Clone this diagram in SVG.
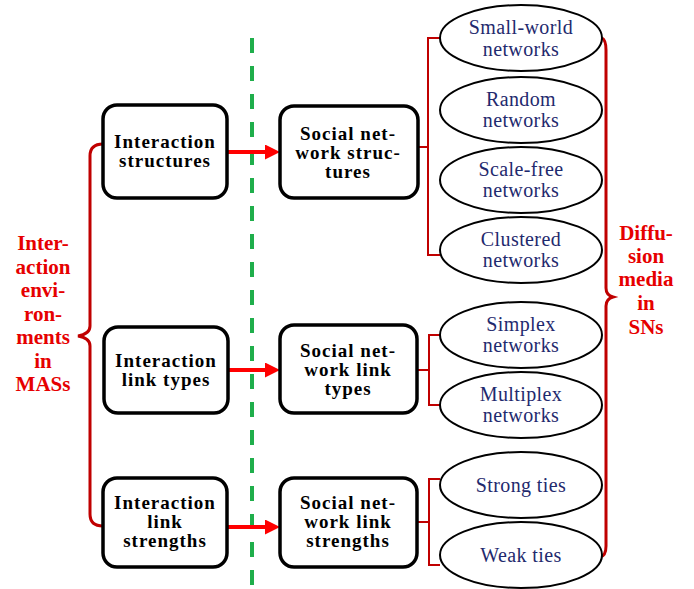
<svg xmlns="http://www.w3.org/2000/svg" width="694" height="589" viewBox="0 0 694 589">
<defs>
<style>
.box{fill:#fff;stroke:#000;stroke-width:3.5}
.ell{fill:#fff;stroke:#000;stroke-width:2}
.bt{font-family:'Liberation Serif','DejaVu Serif',serif;font-weight:bold;font-size:19px;letter-spacing:1px;fill:#000;text-anchor:middle}
.et{font-family:'Liberation Serif','DejaVu Serif',serif;font-size:20px;letter-spacing:0.4px;fill:#1f2a6e;text-anchor:middle}
.rt{font-family:'Liberation Serif','DejaVu Serif',serif;font-weight:bold;font-size:21px;fill:#e60000;text-anchor:middle}
.arr{stroke:#ff0000;stroke-width:4;fill:none}
.br{stroke:#c00000;stroke-width:2;fill:none}
.bbr{stroke:#c00000;stroke-width:3;fill:none}
</style>
<marker id="ah" viewBox="0 0 15 15" refX="1" refY="7.5" markerWidth="15" markerHeight="15" markerUnits="userSpaceOnUse" orient="auto">
<path d="M0,0 L15,7.5 L0,15 z" fill="#ff0000"/>
</marker>
</defs>
<rect width="694" height="589" fill="#fff"/>

<g id="divider">
<line x1="252" y1="38" x2="252" y2="589" stroke="#1fae4b" stroke-width="4" stroke-dasharray="15 13"/>
</g>

<g id="connectors">
<line class="arr" x1="227" y1="152" x2="266" y2="152" marker-end="url(#ah)"/>
<line class="arr" x1="228" y1="370" x2="266" y2="370" marker-end="url(#ah)"/>
<line class="arr" x1="227" y1="527" x2="266" y2="527" marker-end="url(#ah)"/>
<path class="bbr" d="M103,144 Q90,144 90,156 L90,326 Q90,334 78,336 Q90,338 90,346 L90,514 Q90,526 103,526"/>
<path class="br" d="M440,38 L428,38 L428,255 L440,255 M418,147 L428,147"/>
<path class="br" d="M440,335 L429,335 L429,405 L440,405 M418,370 L429,370"/>
<path class="br" d="M440,479 L429,479 L429,565 L440,565 M418,522 L429,522"/>
<path class="bbr" d="M602,38 Q606,40 606,50 L606,288 Q606,295 613,297 Q606,299 606,306 L606,546 Q606,556 600,557"/>
</g>

<g id="left-label">
<text class="rt" x="43" y="250">Inter-</text>
<text class="rt" x="43" y="273.5">action</text>
<text class="rt" x="43" y="297">envi-</text>
<text class="rt" x="43" y="320.5">ron-</text>
<text class="rt" x="43" y="344">ments</text>
<text class="rt" x="43" y="367.5">in</text>
<text class="rt" x="43" y="391">MASs</text>
</g>

<g id="n-int-struct">
<rect class="box" x="103" y="105" width="124" height="93" rx="14"/>
<text class="bt" x="165" y="148">Interaction</text>
<text class="bt" x="165" y="167">structures</text>
</g>
<g id="n-int-types">
<rect class="box" x="104" y="327" width="124" height="86" rx="14"/>
<text class="bt" x="166" y="367">Interaction</text>
<text class="bt" x="166" y="386">link types</text>
</g>
<g id="n-int-strengths">
<rect class="box" x="103" y="478" width="124" height="89" rx="14"/>
<text class="bt" x="165" y="509">Interaction</text>
<text class="bt" x="165" y="528">link</text>
<text class="bt" x="165" y="547">strengths</text>
</g>

<g id="n-sn-struct">
<rect class="box" x="280" y="106" width="138" height="92" rx="14"/>
<text class="bt" x="348" y="140">Social net-</text>
<text class="bt" x="348" y="159">work struc-</text>
<text class="bt" x="348" y="178">tures</text>
</g>
<g id="n-sn-types">
<rect class="box" x="280" y="325" width="137" height="88" rx="14"/>
<text class="bt" x="348" y="357">Social net-</text>
<text class="bt" x="348" y="376">work link</text>
<text class="bt" x="348" y="395">types</text>
</g>
<g id="n-sn-strengths">
<rect class="box" x="280" y="478" width="137" height="89" rx="14"/>
<text class="bt" x="348" y="509">Social net-</text>
<text class="bt" x="348" y="528">work link</text>
<text class="bt" x="348" y="547">strengths</text>
</g>

<g id="e-small-world">
<ellipse class="ell" cx="521" cy="38" rx="81" ry="33"/>
<text class="et" x="521" y="34">Small-world</text>
<text class="et" x="521" y="56">networks</text>
</g>
<g id="e-random">
<ellipse class="ell" cx="521" cy="110" rx="81" ry="33"/>
<text class="et" x="521" y="106">Random</text>
<text class="et" x="521" y="127">networks</text>
</g>
<g id="e-scale-free">
<ellipse class="ell" cx="521" cy="180" rx="81" ry="33"/>
<text class="et" x="521" y="176">Scale-free</text>
<text class="et" x="521" y="197">networks</text>
</g>
<g id="e-clustered">
<ellipse class="ell" cx="521" cy="250" rx="81" ry="33"/>
<text class="et" x="521" y="246">Clustered</text>
<text class="et" x="521" y="267">networks</text>
</g>
<g id="e-simplex">
<ellipse class="ell" cx="521" cy="335" rx="81" ry="33"/>
<text class="et" x="521" y="331">Simplex</text>
<text class="et" x="521" y="352">networks</text>
</g>
<g id="e-multiplex">
<ellipse class="ell" cx="521" cy="405" rx="81" ry="33"/>
<text class="et" x="521" y="401">Multiplex</text>
<text class="et" x="521" y="422">networks</text>
</g>
<g id="e-strong">
<ellipse class="ell" cx="521" cy="485" rx="81" ry="33"/>
<text class="et" x="521" y="492">Strong ties</text>
</g>
<g id="e-weak">
<ellipse class="ell" cx="521" cy="555" rx="81" ry="33"/>
<text class="et" x="521" y="562">Weak ties</text>
</g>

<g id="right-label">
<text class="rt" x="646" y="240">Diffu-</text>
<text class="rt" x="646" y="263">sion</text>
<text class="rt" x="646" y="286">media</text>
<text class="rt" x="646" y="310">in</text>
<text class="rt" x="646" y="334">SNs</text>
</g>
</svg>
